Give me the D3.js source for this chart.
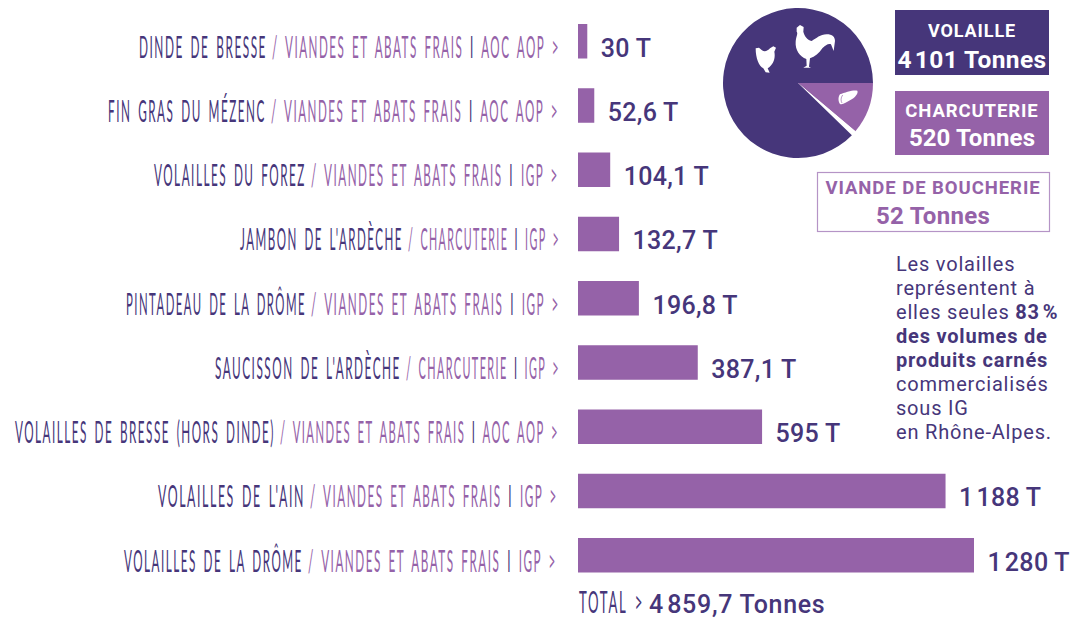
<!DOCTYPE html>
<html>
<head>
<meta charset="utf-8">
<script src="https://cdn.jsdelivr.net/npm/d3@7"></script>
<style>
  html, body { margin: 0; background: #fff; }
  svg { display: block; }
  .hand { font-family: Lato, "Open Sans", sans-serif; font-weight: 400; font-size: 31px; letter-spacing: 4px; word-spacing: 6px; }
  .din { font-family: Roboto, sans-serif; }
</style>
</head>
<body>
<script>
const names = ['DINDE DE BRESSE', 'FIN GRAS DU MÉZENC', 'VOLAILLES DU FOREZ', "JAMBON DE L'ARDÈCHE",
  'PINTADEAU DE LA DRÔME', "SAUCISSON DE L'ARDÈCHE", 'VOLAILLES DE BRESSE (HORS DINDE)',
  "VOLAILLES DE L'AIN", 'VOLAILLES DE LA DRÔME'];
const families = ['VIANDES ET ABATS FRAIS', 'VIANDES ET ABATS FRAIS', 'VIANDES ET ABATS FRAIS', 'CHARCUTERIE',
  'VIANDES ET ABATS FRAIS', 'CHARCUTERIE', 'VIANDES ET ABATS FRAIS', 'VIANDES ET ABATS FRAIS', 'VIANDES ET ABATS FRAIS'];
const signs = ['AOC AOP', 'AOC AOP', 'IGP', 'IGP', 'IGP', 'IGP', 'AOC AOP', 'IGP', 'IGP'];
const tonnes = [30, 52.6, 104.1, 132.7, 196.8, 387.1, 595, 1188, 1280];
const tonnesLabels = ['30 T', '52,6 T', '104,1 T', '132,7 T', '196,8 T', '387,1 T', '595 T', '1\u200a188 T', '1\u200a280 T'];

const groups = ['CHARCUTERIE', 'VIANDE DE BOUCHERIE', 'VOLAILLE'];
const groupTonnes = [520, 52, 4101];
const groupLabels = ['520 Tonnes', '52 Tonnes', '4\u200a101 Tonnes'];

const noteLines = [
  [['Les volailles', 0]],
  [['représentent à', 0]],
  [['elles seules ', 0], ['83\u200a%', 1]],
  [['des volumes de', 1]],
  [['produits carnés', 1]],
  [['commercialisés', 0]],
  [['sous IG', 0]],
  [['en Rhône-Alpes.', 0]]
];

const totalLabel = '4\u200a859,7 Tonnes';

// hand lettering has no font here, so each label gets squeezed to the width in the picture
const nameLeft = [139, 108, 154, 240, 126, 215, 15, 158, 124];
const nameRight = [267, 266, 306, 403, 306, 401, 275, 305, 303];
const labelEnd = [560, 559, 559, 560, 560, 560, 559, 558, 557];

const dark = '#46367a';
const purple = '#9562a8';

const width = 1071;
const height = 619;

const svg = d3.select('body')
  .append('svg')
  .attr('width', width)
  .attr('height', height);

const xScale = d3.scaleLinear()
  .domain([0, 1280])
  .range([578, 974]);

const yScale = d3.scaleBand()
  .domain(names)
  .range([24, 572.5])
  .paddingInner(0.463);

function squeeze(text, x, y, w) {
  const natural = text.node().getComputedTextLength();
  text.attr('transform', `translate(${x}, ${y}) scale(${w / natural}, 1)`);
}

svg.selectAll('.bar')
  .data(names)
  .enter()
  .append('rect')
  .attr('class', 'bar')
  .attr('x', xScale(0))
  .attr('y', d => yScale(d))
  .attr('width', (d, i) => xScale(tonnes[i]) - xScale(0))
  .attr('height', yScale.bandwidth())
  .attr('fill', purple);

svg.selectAll('.value')
  .data(names)
  .enter()
  .append('text')
  .attr('class', 'value din')
  .attr('x', (d, i) => xScale(tonnes[i]) + 13.5)
  .attr('y', d => yScale(d) + yScale.bandwidth() - 2)
  .attr('font-size', 25)
  .attr('font-weight', 500)
  .attr('letter-spacing', 0.3)
  .attr('fill', dark)
  .text((d, i) => tonnesLabels[i]);

names.forEach((name, i) => {
  const baseline = yScale(name) + yScale.bandwidth() - 1;

  const nameText = svg.append('text')
    .attr('class', 'hand')
    .attr('fill', dark)
    .text(name);
  squeeze(nameText, nameLeft[i], baseline, nameRight[i] - nameLeft[i]);

  const familyText = svg.append('text')
    .attr('class', 'hand')
    .attr('fill', purple);
  familyText.append('tspan').text(`/ ${families[i]} `);
  familyText.append('tspan').attr('fill', dark).text('I');
  familyText.append('tspan').text(` ${signs[i]} >`);
  squeeze(familyText, nameRight[i] + 5, baseline, labelEnd[i] - nameRight[i] - 5);
});

// pie
const pie = d3.pie()
  .sort(null)
  .startAngle(Math.PI / 2)
  .endAngle(Math.PI / 2 + 2 * Math.PI);

const arc = d3.arc()
  .innerRadius(0)
  .outerRadius(75);

const pieGroup = svg.append('g')
  .attr('transform', 'translate(798, 83)');

pieGroup.selectAll('path')
  .data(pie(groupTonnes))
  .enter()
  .append('path')
  .attr('d', arc)
  .attr('fill', (d, i) => [purple, '#fff', dark][i]);

// rooster, hen, sausage
svg.append('path')
  .attr('transform', 'translate(745, 15) scale(0.3333)')
  .attr('fill', '#fff')
  .attr('d', 'M155 38 L165 30 L176 36 L175 50 C178 62 186 75 200 78 C215 70 225 58 245 58 C262 58 270 66 270 78 L266 108 L258 88 C250 85 242 90 232 100 C222 115 210 125 195 130 L192 155 L198 158 L175 158 L185 152 L184 132 C165 125 150 105 152 80 C153 65 160 55 155 50 Z');
svg.append('path')
  .attr('transform', 'translate(745, 15) scale(0.3333)')
  .attr('fill', '#fff')
  .attr('d', 'M32 100 L42 98 L50 105 C58 112 68 108 75 100 L85 94 L93 98 L88 110 C92 130 85 150 68 160 L74 173 L62 172 L55 160 C42 155 32 130 32 100 Z');
svg.append('path')
  .attr('transform', 'translate(830, 85) scale(0.3333)')
  .attr('fill', '#fff')
  .attr('d', 'M30 28 C45 22 70 14 82 17 C86 25 75 38 60 46 C50 52 38 60 30 57 C24 50 24 35 30 28 Z');
svg.append('path')
  .attr('transform', 'translate(830, 85) scale(0.3333)')
  .attr('fill', 'none')
  .attr('stroke', purple)
  .attr('stroke-width', 2)
  .attr('d', 'M38 30 C32 38 32 48 36 54');

// legend boxes
svg.append('rect').attr('x', 895).attr('y', 10).attr('width', 154).attr('height', 65).attr('fill', dark);
svg.append('rect').attr('x', 895).attr('y', 91).attr('width', 154).attr('height', 64).attr('fill', purple);
svg.append('rect').attr('x', 817.5).attr('y', 172.5).attr('width', 232).attr('height', 59)
  .attr('fill', '#fff').attr('stroke', '#b594c6').attr('stroke-width', 1.2);

function boxText(x, y, size, fill, text, spacing) {
  svg.append('text')
    .attr('class', 'din')
    .attr('x', x)
    .attr('y', y)
    .attr('text-anchor', 'middle')
    .attr('font-size', size)
    .attr('font-weight', 700)
    .attr('letter-spacing', spacing)
    .attr('fill', fill)
    .text(text);
}

boxText(972, 37, 18, '#fff', groups[2], 0.9);
boxText(972, 68, 24.5, '#fff', groupLabels[2], 0.4);
boxText(972, 117, 18.5, '#fff', groups[0], 0.9);
boxText(972, 146, 24, '#fff', groupLabels[0], 0.1);
boxText(933, 194, 18.5, purple, groups[1], 0.95);
boxText(933, 224, 24, purple, groupLabels[1], 0.3);

// note
const note = svg.append('text')
  .attr('class', 'din')
  .attr('font-size', 20)
  .attr('letter-spacing', 0.8)
  .attr('fill', dark);

noteLines.forEach((line, i) => {
  line.forEach((part, j) => {
    const span = note.append('tspan')
      .attr('font-weight', part[1] ? 700 : 400)
      .text(part[0]);
    if (j === 0) {
      span.attr('x', 896).attr('y', 271 + i * 24);
    }
  });
});

// total
const totalHand = svg.append('text')
  .attr('class', 'hand')
  .attr('fill', dark)
  .text('TOTAL >');
squeeze(totalHand, 579, 613, 65);

svg.append('text')
  .attr('class', 'din')
  .attr('x', 649)
  .attr('y', 613)
  .attr('font-size', 25)
  .attr('font-weight', 500)
  .attr('letter-spacing', 0.7)
  .attr('fill', dark)
  .text(totalLabel);
</script>
</body>
</html>
